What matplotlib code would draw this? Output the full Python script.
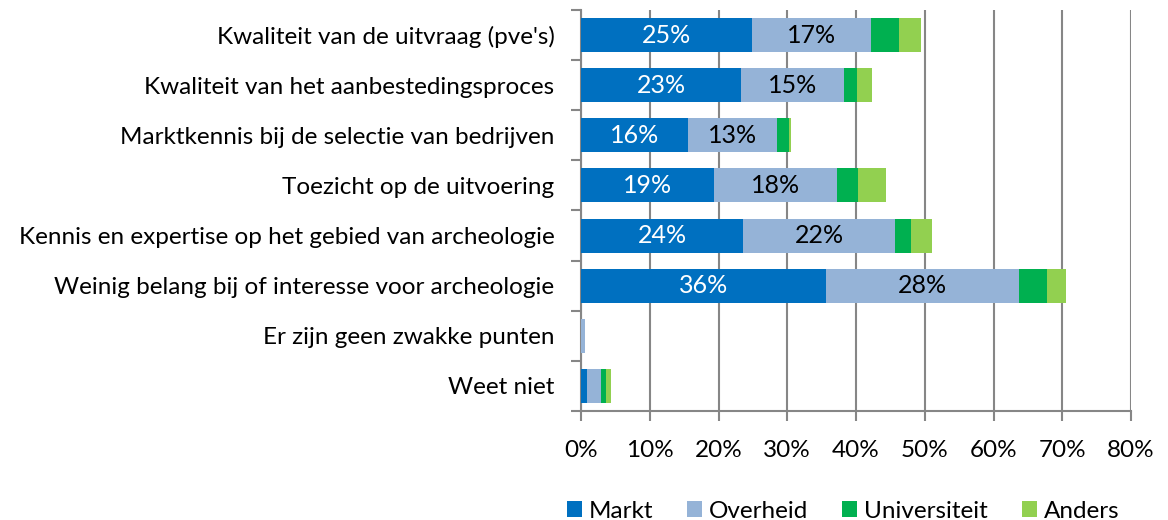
import numpy as np
from matplotlib import pyplot as plt
from matplotlib.ticker import FixedLocator

plt.rcParams['font.family'] = ['Lato', 'DejaVu Sans']

categories = ["Kwaliteit van de uitvraag (pve's)",
              "Kwaliteit van het aanbestedingsproces",
              "Marktkennis bij de selectie van bedrijven",
              "Toezicht op de uitvoering",
              "Kennis en expertise op het gebied van archeologie",
              "Weinig belang bij of interesse voor archeologie",
              "Er zijn geen zwakke punten",
              "Weet niet"]

# percentages per group
markt = [24.8, 23.3, 15.6, 19.3, 23.6, 35.6, 0.0, 0.9]
overheid = [17.4, 15.0, 12.9, 18.0, 22.1, 28.1, 0.6, 2.0]
universiteit = [4.0, 1.9, 1.8, 3.0, 2.3, 4.1, 0.0, 0.7]
anders = [3.2, 2.1, 0.3, 4.1, 3.1, 2.7, 0.0, 0.7]

series = [("Markt", markt, "#0070C0"),
          ("Overheid", overheid, "#95B3D7"),
          ("Universiteit", universiteit, "#00B050"),
          ("Anders", anders, "#92D050")]

fs = 17.5

fig = plt.figure(figsize=(11.68, 5.2), dpi=100)
ax = fig.add_axes([581/1168, 1 - 411/520, 550/1168, 401/520])

y = np.arange(len(categories))
left = np.zeros(len(categories))
for name, vals, col in series:
    vals = np.array(vals)
    bars = ax.barh(y, vals, left=left, height=0.68, color=col, label=name, zorder=3)
    if name in ("Markt", "Overheid"):
        tc = 'white' if name == "Markt" else 'black'
        for b, v in zip(bars, vals):
            if v >= 5:
                ax.text(b.get_x() + b.get_width()/2, b.get_y() + b.get_height()/2,
                        "%d%%" % round(v), ha='center', va='center',
                        color=tc, fontsize=fs + 0.5, zorder=4)
    left = left + vals

ax.set_xlim(0, 80)
ax.set_ylim(len(categories) - 0.5, -0.5)
ax.set_xticks(np.arange(0, 81, 10))
ax.set_xticklabels(["%d%%" % v for v in range(0, 81, 10)], fontsize=fs)
ax.set_yticks(y)
ax.set_yticklabels(categories, fontsize=fs)
ax.yaxis.set_minor_locator(FixedLocator(np.arange(-0.5, len(categories), 1)))
ax.tick_params(axis='y', which='major', length=0, pad=19)
ax.tick_params(axis='y', which='minor', length=7, color='#868686', width=1.5)
ax.tick_params(axis='x', length=7, color='#868686', width=1.5, pad=14)

ax.grid(axis='x', color='#868686', linewidth=1.5, zorder=0)
for s in ['top', 'right']:
    ax.spines[s].set_visible(False)
for s in ['left', 'bottom']:
    ax.spines[s].set_color('#868686')
    ax.spines[s].set_linewidth(1.5)

fig.legend(loc='lower center', bbox_to_anchor=(0.722, -0.045), ncol=4, frameon=False,
           fontsize=fs, handlelength=0.6, handleheight=0.6, handletextpad=0.3,
           columnspacing=1.4)

fig.savefig("out.png", dpi=100)
